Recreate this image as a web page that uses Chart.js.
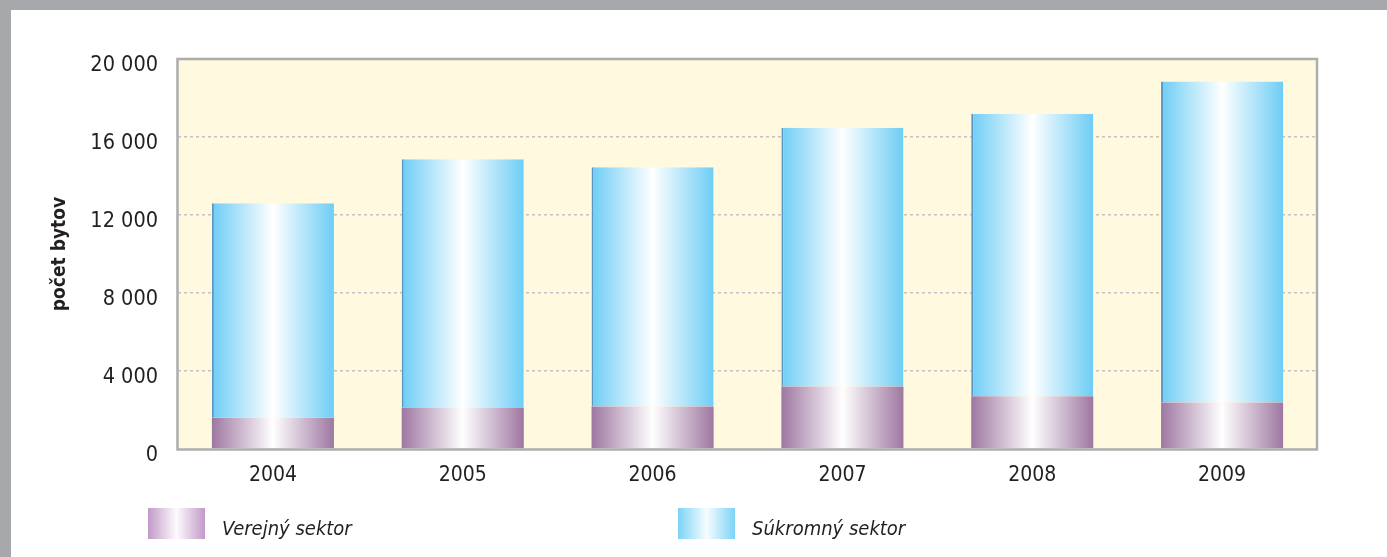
<!DOCTYPE html>
<html>
<head>
<meta charset="utf-8">
<script src="https://cdn.jsdelivr.net/npm/chart.js@4/dist/chart.umd.min.js"></script>
<style>
  body { margin: 0; background: #fff; }
  #wrap { position: relative; width: 1387px; height: 557px; overflow: hidden; }
  #topBand { position: absolute; left: 0; top: 0; width: 1387px; height: 10px; background: #a7a8ab; }
  #leftBand { position: absolute; left: 0; top: 0; width: 11px; height: 557px; background: #a7a8ab; }
  #chartBox { position: absolute; left: 0; top: 0; width: 1387px; height: 557px; }
  .legendItem { position: absolute; top: 508px; height: 31px; }
  .swatch { position: absolute; left: 0; top: 0; width: 57px; height: 31px; }
  .legendText {
    position: absolute; left: 74px; top: 8px; white-space: nowrap; line-height: 1;
    font: italic 20px "DejaVu Sans Condensed", "Liberation Sans Narrow", sans-serif; color: #231f20;
  }
</style>
</head>
<body>
<div id="wrap">
  <div id="chartBox"><canvas id="myChart"></canvas></div>
  <div id="topBand"></div>
  <div id="leftBand"></div>
  <div class="legendItem" style="left:148px">
    <div class="swatch" style="background: linear-gradient(to right, #c299c9, #fdfbfd 50%, #c299c9)"></div>
    <div class="legendText">Verejný sektor</div>
  </div>
  <div class="legendItem" style="left:678px">
    <div class="swatch" style="background: linear-gradient(to right, #7dd3f6, #f7fcff 50%, #7dd3f6)"></div>
    <div class="legendText">Súkromný sektor</div>
  </div>
</div>
<script>
const years = ["2004", "2005", "2006", "2007", "2008", "2009"];
const publicSector = [1600, 2130, 2180, 3200, 2700, 2380];
const privateSector = [11000, 12730, 12270, 13280, 14490, 16460];
const yTicks = [0, 4000, 8000, 12000, 16000, 20000];

const BAR_PCT = 0.643;
const FONT = '"DejaVu Sans Condensed", "Liberation Sans Narrow", sans-serif';

// horizontal gradient across each bar: edge colour -> white in the middle -> edge colour
const barGradient = (context, edge) => {
  const chart = context.chart;
  const { chartArea, scales } = chart;
  if (!chartArea || context.dataIndex === undefined || !scales.x) return edge;
  const x = scales.x.getPixelForValue(context.dataIndex);
  const half = (chartArea.width / years.length) * BAR_PCT / 2;
  const g = chart.ctx.createLinearGradient(x - half, 0, x + half, 0);
  g.addColorStop(0, edge);
  g.addColorStop(0.5, "#ffffff");
  g.addColorStop(1, edge);
  return g;
};

// yellow plot background + grey frame
const plotFrame = {
  id: "plotFrame",
  beforeDraw(chart) {
    const { ctx, chartArea: a } = chart;
    ctx.save();
    ctx.fillStyle = "#fffadf";
    ctx.fillRect(a.left, a.top, a.width, a.height);
    ctx.restore();
  },
  afterDraw(chart) {
    const { ctx, chartArea: a } = chart;
    ctx.save();
    ctx.strokeStyle = "#adadad";
    ctx.lineWidth = 2.5;
    ctx.strokeRect(a.left - 0.5, a.top, a.width + 0.5, a.height + 0.5);
    ctx.restore();
  },
};

const ctx = document.getElementById("myChart").getContext("2d");
const myChart = new Chart(ctx, {
  type: "bar",
  data: {
    labels: years,
    datasets: [
      {
        label: "Verejný sektor",
        data: publicSector,
        backgroundColor: (c) => barGradient(c, "#9e77a1"),
        borderWidth: 0,
      },
      {
        label: "Súkromný sektor",
        data: privateSector,
        backgroundColor: (c) => barGradient(c, "#6dcdf5"),
        borderColor: "#5b96c3",
        borderWidth: { left: 2, right: 0, top: 0, bottom: 0 },
        borderSkipped: false,
      },
    ],
  },
  plugins: [plotFrame],
  options: {
    responsive: true,
    maintainAspectRatio: false,
    animation: false,
    layout: { padding: { left: 11, right: 70, top: 59, bottom: 70 } },
    datasets: {
      bar: { categoryPercentage: 1, barPercentage: BAR_PCT },
    },
    plugins: {
      legend: { display: false },
      tooltip: { enabled: false },
    },
    scales: {
      x: {
        stacked: true,
        grid: { display: false, drawTicks: false },
        border: { display: false },
        ticks: {
          color: "#231f20",
          padding: 14,
          font: { family: FONT, size: 21 },
        },
        afterFit: (scale) => { scale.height = 38; },
      },
      y: {
        stacked: true,
        min: 0,
        max: 20000,
        afterBuildTicks: (scale) => {
          scale.ticks = yTicks.map((v) => ({ value: v }));
        },
        afterFit: (scale) => { scale.width = 167; },
        grid: {
          drawTicks: false,
          color: (c) => (c.tick.value === 0 || c.tick.value === 20000 ? "rgba(0,0,0,0)" : "#c2c2c2"),
          lineWidth: 1.5,
        },
        border: { display: false, dash: [3, 3] },
        ticks: {
          color: "#231f20",
          padding: 20,
          labelOffset: 6,
          font: { family: FONT, size: 21.5 },
          callback: (v) => String(v).replace(/\B(?=(\d{3})+(?!\d))/g, " "),
        },
        title: {
          display: true,
          text: "počet bytov",
          color: "#231f20",
          padding: { top: 38, bottom: 0 },
          font: { family: FONT, size: 19, weight: "bold" },
        },
      },
    },
  },
});
</script>
</body>
</html>
